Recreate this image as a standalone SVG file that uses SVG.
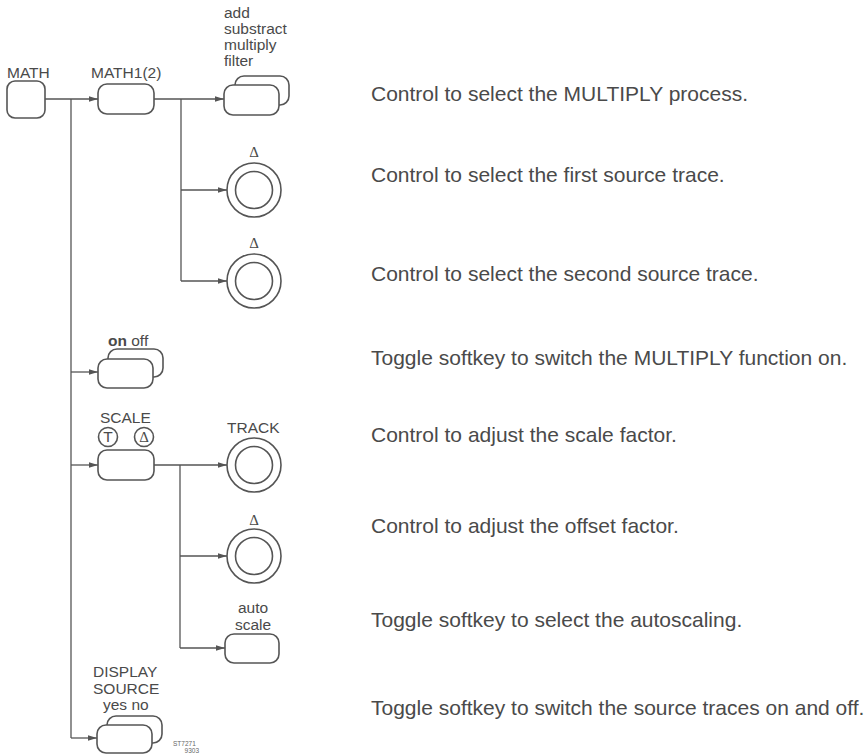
<svg xmlns="http://www.w3.org/2000/svg" width="868" height="755" viewBox="0 0 868 755">
<defs>
<marker id="arr" markerUnits="userSpaceOnUse" markerWidth="10" markerHeight="8" refX="9" refY="4" orient="auto">
<path d="M0,1.2 L9,4 L0,6.8 Z" fill="#555"/>
</marker>
<style>
.btn{fill:#fff;stroke:#555;stroke-width:1.6}
.ln{fill:none;stroke:#555;stroke-width:1.3}
.lbl{font-family:"Liberation Sans",Arial,sans-serif;font-size:15.5px;fill:#4a4a4a}
.dsc{font-family:"Liberation Sans",Arial,sans-serif;font-size:21px;fill:#4a4a4a}
.dl{font-family:"Liberation Serif","Times New Roman",serif;font-size:15px;fill:#4a4a4a;text-anchor:middle}
.tiny{font-family:"Liberation Sans",Arial,sans-serif;font-size:6.5px;fill:#666}
</style>
</defs>
<rect width="868" height="755" fill="#fff"/>

<g id="connectors">
<path class="ln" d="M45,99 H98" marker-end="url(#arr)"/>
<path class="ln" d="M71,99 V738"/>
<path class="ln" d="M71,372 H98" marker-end="url(#arr)"/>
<path class="ln" d="M71,465 H98" marker-end="url(#arr)"/>
<path class="ln" d="M71,738 H97" marker-end="url(#arr)"/>
<path class="ln" d="M154,99 H224" marker-end="url(#arr)"/>
<path class="ln" d="M181,99 V281"/>
<path class="ln" d="M181,190 H227" marker-end="url(#arr)"/>
<path class="ln" d="M181,281 H227" marker-end="url(#arr)"/>
<path class="ln" d="M154,465 H227" marker-end="url(#arr)"/>
<path class="ln" d="M180,465 V648"/>
<path class="ln" d="M180,556 H227" marker-end="url(#arr)"/>
<path class="ln" d="M180,648 H225" marker-end="url(#arr)"/>
</g>

<g id="math">
<text class="lbl" x="7" y="78">MATH</text>
<rect class="btn" x="7" y="81" width="38" height="37" rx="8"/>
</g>

<g id="math1">
<text class="lbl" x="91" y="78">MATH1(2)</text>
<rect class="btn" x="98" y="84" width="56" height="30" rx="9"/>
</g>

<g id="process-softkey">
<text class="lbl" x="224" y="18">add</text>
<text class="lbl" x="224" y="34">substract</text>
<text class="lbl" x="224" y="50">multiply</text>
<text class="lbl" x="224" y="66">filter</text>
<rect class="btn" x="235" y="76" width="54" height="29" rx="9"/>
<rect class="btn" x="224" y="85" width="55" height="30" rx="9"/>
</g>

<g id="source1-knob">
<text class="dl" x="254" y="157">Δ</text>
<circle class="btn" cx="254" cy="190" r="27"/>
<circle class="btn" cx="254" cy="190" r="18.5"/>
</g>

<g id="source2-knob">
<text class="dl" x="254" y="248">Δ</text>
<circle class="btn" cx="254" cy="281" r="27"/>
<circle class="btn" cx="254" cy="281" r="18.5"/>
</g>

<g id="onoff-softkey">
<text class="lbl" x="108" y="346"><tspan font-weight="bold">on</tspan> off</text>
<rect class="btn" x="108" y="349" width="55" height="28" rx="9"/>
<rect class="btn" x="98" y="359" width="55" height="29" rx="9"/>
</g>

<g id="scale">
<text class="lbl" x="100" y="423">SCALE</text>
<circle class="btn" cx="108" cy="437" r="9.5" stroke-width="1.2"/>
<text class="lbl" x="108" y="442" text-anchor="middle" font-size="13">T</text>
<circle class="btn" cx="144" cy="437" r="9.5" stroke-width="1.2"/>
<text class="dl" x="144" y="442" font-size="13">Δ</text>
<rect class="btn" x="98" y="450" width="56" height="30" rx="9"/>
</g>

<g id="track-knob">
<text class="lbl" x="227" y="433">TRACK</text>
<circle class="btn" cx="254" cy="465" r="27"/>
<circle class="btn" cx="254" cy="465" r="18.5"/>
</g>

<g id="offset-knob">
<text class="dl" x="254" y="525">Δ</text>
<circle class="btn" cx="254" cy="556" r="27"/>
<circle class="btn" cx="254" cy="556" r="18.5"/>
</g>

<g id="autoscale">
<text class="lbl" x="253" y="613" text-anchor="middle">auto</text>
<text class="lbl" x="253" y="630" text-anchor="middle">scale</text>
<rect class="btn" x="225" y="634" width="54" height="29" rx="9"/>
</g>

<g id="display-source">
<text class="lbl" x="93" y="677">DISPLAY</text>
<text class="lbl" x="93" y="694">SOURCE</text>
<text class="lbl" x="103" y="710">yes no</text>
<rect class="btn" x="107" y="716" width="55" height="27" rx="9"/>
<rect class="btn" x="97" y="725" width="55" height="28" rx="9"/>
<text class="tiny" x="173" y="746">ST7271</text>
<text class="tiny" x="199" y="753" text-anchor="end">9303</text>
</g>

<g id="descriptions">
<text class="dsc" x="371" y="101">Control to select the MULTIPLY process.</text>
<text class="dsc" x="371" y="182">Control to select the first source trace.</text>
<text class="dsc" x="371" y="281">Control to select the second source trace.</text>
<text class="dsc" x="371" y="365">Toggle softkey to switch the MULTIPLY function on.</text>
<text class="dsc" x="371" y="442">Control to adjust the scale factor.</text>
<text class="dsc" x="371" y="533">Control to adjust the offset factor.</text>
<text class="dsc" x="371" y="627">Toggle softkey to select the autoscaling.</text>
<text class="dsc" x="371" y="715">Toggle softkey to switch the source traces on and off.</text>
</g>
</svg>
